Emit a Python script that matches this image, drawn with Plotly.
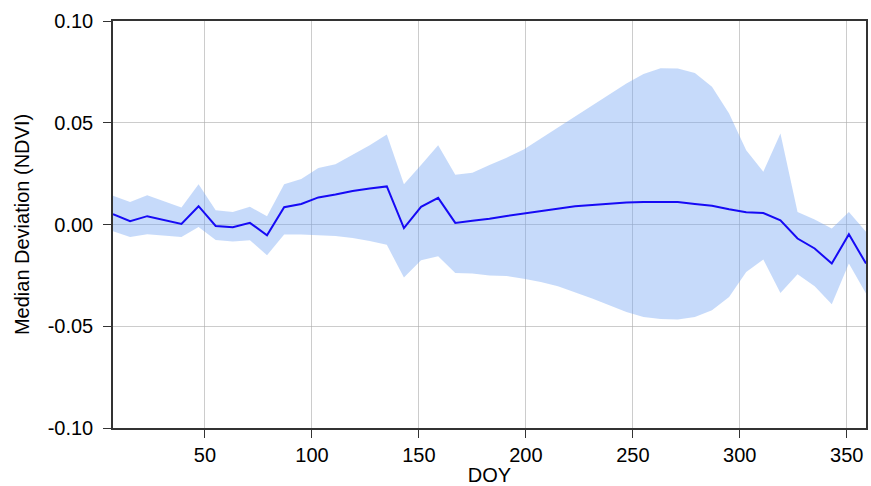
import plotly.graph_objects as go

doy = [7 + 8 * i for i in range(45)]

median = [0.0051, 0.0016, 0.0041, 0.0021, 0.0003, 0.0090, -0.0007, -0.0013, 0.0008, -0.0053,
          0.0085, 0.0101, 0.0133, 0.0147, 0.0165, 0.0177, 0.0187, -0.0018, 0.0087, 0.0131,
          0.0008, 0.0018, 0.0028, 0.0042, 0.0054, 0.0069, 0.0080, 0.0090, 0.0096, 0.0103,
          0.0108, 0.0111, 0.0111, 0.0110, 0.0101, 0.0092, 0.0075, 0.0060, 0.0056, 0.0021,
          -0.0069, -0.0118, -0.0192, -0.0048, -0.0192]

upper = [0.0141, 0.0111, 0.0144, 0.0115, 0.0083, 0.0198, 0.0070, 0.0062, 0.0087, 0.0041,
         0.0198, 0.0224, 0.0278, 0.0296, 0.0341, 0.0390, 0.0442, 0.0198, 0.0292, 0.0390,
         0.0244, 0.0254, 0.0292, 0.0328, 0.0369, 0.0423, 0.0478, 0.0532, 0.0587, 0.0641,
         0.0693, 0.0739, 0.0768, 0.0767, 0.0745, 0.0677, 0.0546, 0.0365, 0.0259, 0.0447,
         0.0062, 0.0025, -0.0020, 0.0062, -0.0036]

lower = [-0.0033, -0.0061, -0.0048, -0.0053, -0.0061, -0.0012, -0.0076, -0.0084, -0.0077, -0.0151,
         -0.0049, -0.0049, -0.0051, -0.0056, -0.0066, -0.0081, -0.0100, -0.0261, -0.0176, -0.0156,
         -0.0238, -0.0241, -0.0251, -0.0253, -0.0266, -0.0282, -0.0303, -0.0333, -0.0364, -0.0397,
         -0.0430, -0.0454, -0.0464, -0.0467, -0.0454, -0.0421, -0.0356, -0.0233, -0.0172, -0.0336,
         -0.0244, -0.0303, -0.0392, -0.0192, -0.0339]

y_ticks = [-0.10, -0.05, 0.00, 0.05, 0.10]
y_tick_labels = ["-0.10", "-0.05", "0.00", "0.05", "0.10"]
x_ticks = [50, 100, 150, 200, 250, 300, 350]

FONT = "Liberation Sans, Arial, Helvetica, sans-serif"

fig = go.Figure()
fig.add_trace(go.Scatter(x=doy, y=upper, mode="lines", line=dict(width=0),
                         hoverinfo="skip", showlegend=False))
fig.add_trace(go.Scatter(x=doy, y=lower, mode="lines", line=dict(width=0),
                         fill="tonexty", fillcolor="rgba(120,168,243,0.42)",
                         hoverinfo="skip", showlegend=False))
fig.add_trace(go.Scatter(x=doy, y=median, mode="lines",
                         line=dict(color="rgb(22,10,245)", width=2),
                         showlegend=False))

axis_common = dict(
    showline=True, linecolor="#333333", linewidth=1.5, mirror=True,
    showgrid=True, gridcolor="rgba(170,170,170,0.6)", gridwidth=1,
    zeroline=False,
    ticks="outside", ticklen=8, tickwidth=1.2, tickcolor="#333333",
    tickfont=dict(family=FONT, size=20, color="black"),
)

fig.update_xaxes(range=[7, 359], tickvals=x_ticks,
                 title=dict(text="DOY", font=dict(family=FONT, size=20, color="black"), standoff=2),
                 **axis_common)
fig.update_yaxes(range=[-0.1, 0.1], tickvals=y_ticks, ticktext=y_tick_labels,
                 ticklabelstandoff=6,
                 title=dict(text="Median Deviation (NDVI)", font=dict(family=FONT, size=20, color="black"), standoff=13),
                 **axis_common)

fig.update_layout(
    width=871, height=486,
    margin=dict(l=113, r=3, t=21, b=58),
    plot_bgcolor="white", paper_bgcolor="white",
    font=dict(family=FONT, size=20, color="black"),
)

fig.write_html("out.html")
